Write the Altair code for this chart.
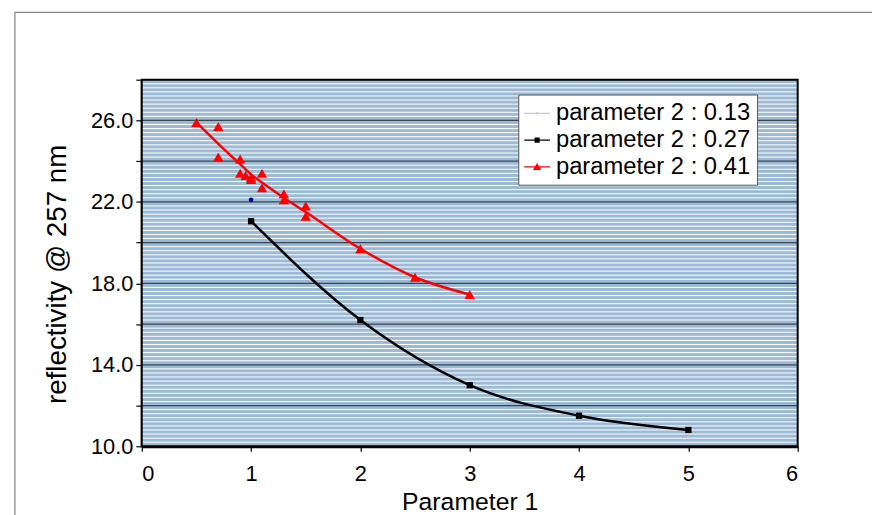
import altair as alt
import pandas as pd

FONT = "Liberation Sans"

# ---- data ----
series_names = ["parameter 2 : 0.13", "parameter 2 : 0.27", "parameter 2 : 0.41"]

s13_x = [1.0]
s13_y = [22.1]

s27_x = [1, 2, 3, 4, 5]
s27_y = [21.05, 16.2, 13.0, 11.5, 10.8]

s41_x = [0.5, 0.7, 0.7, 0.9, 0.9, 0.95, 1.0, 1.0, 1.1, 1.1, 1.3, 1.3, 1.5, 1.5, 2.0, 2.5, 3.0]
s41_y = [25.9, 25.7, 24.2, 24.1, 23.4, 23.3, 23.2, 23.1, 23.4, 22.7, 22.4, 22.1, 21.8, 21.3, 19.7, 18.3, 17.45]

# smoothed red curve as drawn in the reference
s41_curve_x = [0.5, 0.7, 0.9, 1.0, 1.1, 1.3, 1.5, 2.0, 2.5, 3.0]
s41_curve_y = [25.9, 24.85, 23.85, 23.35, 22.95, 22.2, 21.5, 19.7, 18.3, 17.45]

x_ticks = [0, 1, 2, 3, 4, 5, 6]
y_ticks = [10, 12, 14, 16, 18, 20, 22, 24, 26, 28]
x_range = [0, 6]
y_range = [10, 28]

legend_colors = ["#C4C4F6", "#000000", "#FF0000"]
PLOT_FILL = "#9DBAD5"
GRID = "#3A4654"

# ---- tables ----
df13 = pd.DataFrame({"x": s13_x, "y": s13_y})
df27 = pd.DataFrame({"x": s27_x, "y": s27_y})
df41 = pd.DataFrame({"x": s41_x, "y": s41_y})
df41c = pd.DataFrame({"x": s41_curve_x, "y": s41_curve_y})
df_leg = pd.DataFrame({"series": series_names})
df_one = pd.DataFrame({"a": [0]})
df_grid = pd.DataFrame({"g": y_ticks})

xscale = alt.Scale(domain=x_range, nice=False, zero=False)
yscale = alt.Scale(domain=y_range, nice=False, zero=False)

x_axis = alt.Axis(values=x_ticks, format="d", title="Parameter 1", grid=False,
                  labelFontSize=22, titleFontSize=25, labelFont=FONT, titleFont=FONT,
                  tickSize=5, labelPadding=13, titleFontWeight="normal",
                  titleBaseline="alphabetic", titleY=64)
y_axis = alt.Axis(values=y_ticks, title="reflectivity @ 257 nm", grid=False,
                  labelExpr="(datum.value - 10) % 4 == 0 ? format(datum.value, '.1f') : ''",
                  labelFontSize=22, titleFontSize=28, labelFont=FONT, titleFont=FONT,
                  tickSize=6, labelPadding=3, titleFontWeight="normal",
                  titleBaseline="alphabetic", titleX=-77, titleY=196, titleAngle=270)

X = alt.X("x:Q", scale=xscale, axis=x_axis)
Y = alt.Y("y:Q", scale=yscale, axis=y_axis)

# plot-area background
bg = alt.Chart(df_one).mark_rect(color=PLOT_FILL).encode(
    x=alt.datum(x_range[0], scale=xscale, axis=x_axis), x2=alt.datum(x_range[1]),
    y=alt.datum(y_range[0], scale=yscale, axis=y_axis), y2=alt.datum(y_range[1]),
)

# background stripes (Excel pattern fill)
stripes = alt.Chart(alt.sequence(10.2, 28, 0.2, as_="v")).transform_filter(
    "abs(datum.v / 2 - round(datum.v / 2)) > 0.02"
).mark_rule(color="white", strokeWidth=1).encode(
    y=alt.Y("v:Q", scale=yscale, axis=y_axis)
)

gridlines = alt.Chart(df_grid).mark_rule(color=GRID, strokeWidth=1.3).encode(
    y=alt.Y("g:Q", scale=yscale, axis=y_axis)
)

border = alt.Chart(df_one).mark_rect(filled=False, stroke="black", strokeWidth=2).encode(
    x=alt.datum(x_range[0], scale=xscale), x2=alt.datum(x_range[1]),
    y=alt.datum(y_range[0], scale=yscale), y2=alt.datum(y_range[1]),
)

frame = alt.Chart(df_one).mark_rect(
    filled=False, stroke="#666666", strokeWidth=1, clip=False
).encode(x=alt.value(-128), x2=alt.value(1200), y=alt.value(-68), y2=alt.value(1200))

line27 = alt.Chart(df27).mark_line(color="black", strokeWidth=2.5, interpolate="monotone").encode(x=X, y=Y)
line41 = alt.Chart(df41c).mark_line(color="#FF0000", strokeWidth=2.5, interpolate="monotone").encode(x=X, y=Y)

pts13 = alt.Chart(df13).mark_point(filled=True, opacity=1, shape="circle", size=22, color="#000080").encode(x=X, y=Y)
pts27 = alt.Chart(df27).mark_point(filled=True, opacity=1, shape="square", size=40, color="#000000").encode(x=X, y=Y)
pts41 = alt.Chart(df41).mark_point(filled=True, opacity=1, shape="triangle-up", size=110, color="#FF0000").encode(x=X, y=Y)

LINE = "M-1,-0.055L1,-0.055L1,0.055L-1,0.055Z"
legend_shapes = [
    LINE + "M-0.13,0L0,-0.13L0.13,0L0,0.13Z",
    LINE + "M-0.2,-0.2L0.2,-0.2L0.2,0.2L-0.2,0.2Z",
    LINE + "M-0.32,0.25L0,-0.3L0.32,0.25Z",
]

def make_legend():
    return alt.Legend(title=None, orient="none", legendX=380, legendY=15,
                      fillColor="white", strokeColor="#555555", padding=6,
                      labelFontSize=24, labelFont=FONT, labelColor="black",
                      symbolSize=676, symbolStrokeWidth=0, symbolOpacity=1,
                      labelOffset=6, rowPadding=2, labelLimit=0)

legend_layer = alt.Chart(df_leg).mark_point(filled=True, opacity=0).encode(
    color=alt.Color("series:N", scale=alt.Scale(domain=series_names, range=legend_colors),
                    legend=make_legend()),
    shape=alt.Shape("series:N", scale=alt.Scale(domain=series_names, range=legend_shapes),
                    legend=make_legend()),
)

chart = alt.layer(bg, stripes, gridlines, frame, line27, line41, pts13, pts27, pts41,
                  border, legend_layer).properties(
    width=662, height=370,
    autosize=alt.AutoSizeParams(type="none"),
    padding={"left": 135, "top": 70, "right": 75, "bottom": 67},
    background="white",
).configure_view(
    stroke=None
).configure_axis(
    domainColor="black", domainWidth=3, tickColor="black", tickWidth=1.2,
    labelColor="black", titleColor="black",
)

chart.save("out.html", embed_options={"renderer": "svg", "actions": False})
